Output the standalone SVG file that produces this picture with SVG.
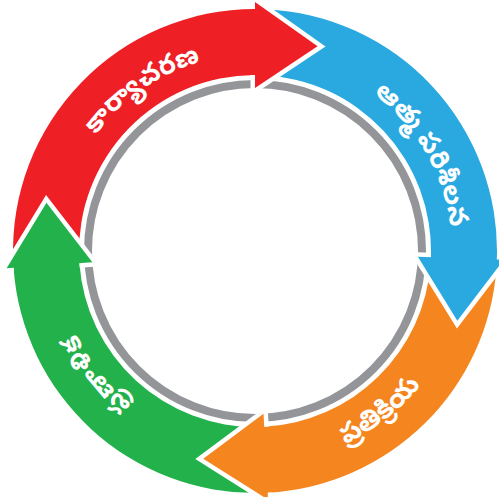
<svg xmlns="http://www.w3.org/2000/svg" xmlns:xlink="http://www.w3.org/1999/xlink" width="499" height="497" viewBox="0 0 499 497">
<style>
.lbl{font-family:"Noto Sans Telugu","Lohit Telugu","Pothana2000","Noto Sans",sans-serif;font-size:27px;font-weight:bold;fill:#ffffff;text-anchor:middle}
.hs{fill:none;stroke:#ffffff;stroke-width:9;stroke-linejoin:miter}
.ring{fill:none;stroke:#939598;stroke-width:8}
</style>
<defs>
<path id="headFill" d="M504,251 L459.65,313.57 L418,251 Z"/>
<path id="headStroke" d="M497,251 L504,251 L459.65,313.57 L418,251 L431,251"/>
<path id="tpRed" d="M58.76,233.83 A197,197 0 0 1 305.99,60.71"/>
<path id="tpBlue" d="M289.21,57.01 A197,197 0 0 1 440.12,318.38"/>
<path id="tpOrange" d="M210.72,459.34 A213,213 0 0 0 467.87,258.43"/>
<path id="tpGreen" d="M248.12,447.88 A197,197 0 0 1 62.31,210.04"/>
</defs>
<g id="connectors">
<circle class="ring" cx="255" cy="251" r="167"/>
</g>
<g id="node-karyacharana">
<path fill="#EE2026" transform="rotate(270 255 251)" d="M246.55,9.15 A242,242 0 0 1 497,251 L504,251 L459.65,313.57 L418,251 L431,251 A176,176 0 0 0 248.86,75.11 Z"/>
<text class="lbl"><textPath href="#tpRed" startOffset="50%">కార్యాచరణ</textPath></text>
</g>
<g id="node-atma-parishilana">
<path fill="#29A9E0" transform="rotate(2 255 251)" d="M255,9 A242,242 0 0 1 497,251 L504,251 L459.65,313.57 L418,251 L431,251 A176,176 0 0 0 255,75 Z"/>
<text class="lbl"><textPath href="#tpBlue" startOffset="50%">ఆత్మ పరిశీలన</textPath></text>
</g>
<g id="node-pratikriya">
<path fill="#F5861F" transform="rotate(87 255 251)" d="M284.49,10.80 A242,242 0 0 1 497,251 L504,251 L459.65,313.57 L418,251 L431,251 A176,176 0 0 0 276.45,76.31 Z"/>
<text class="lbl"><textPath href="#tpOrange" startOffset="50%">ప్రతిక్రియ</textPath></text>
</g>
<g id="node-pranalika">
<path fill="#22B14B" transform="rotate(176 255 251)" d="M267.67,9.33 A242,242 0 0 1 497,251 L504,251 L459.65,313.57 L418,251 L431,251 A176,176 0 0 0 264.21,75.24 Z"/>
<text class="lbl"><textPath href="#tpGreen" startOffset="50%">ప్రణాళిక</textPath></text>
</g>
<g id="arrowheads">
<g transform="rotate(270 255 251)"><use href="#headStroke" class="hs"/><use href="#headFill" fill="#EE2026"/></g>
<g transform="rotate(2 255 251)"><use href="#headStroke" class="hs"/><use href="#headFill" fill="#29A9E0"/></g>
<g transform="rotate(87 255 251)"><use href="#headStroke" class="hs"/><use href="#headFill" fill="#F5861F"/></g>
<g transform="rotate(176 255 251)"><use href="#headStroke" class="hs"/><use href="#headFill" fill="#22B14B"/></g>
</g>
</svg>
